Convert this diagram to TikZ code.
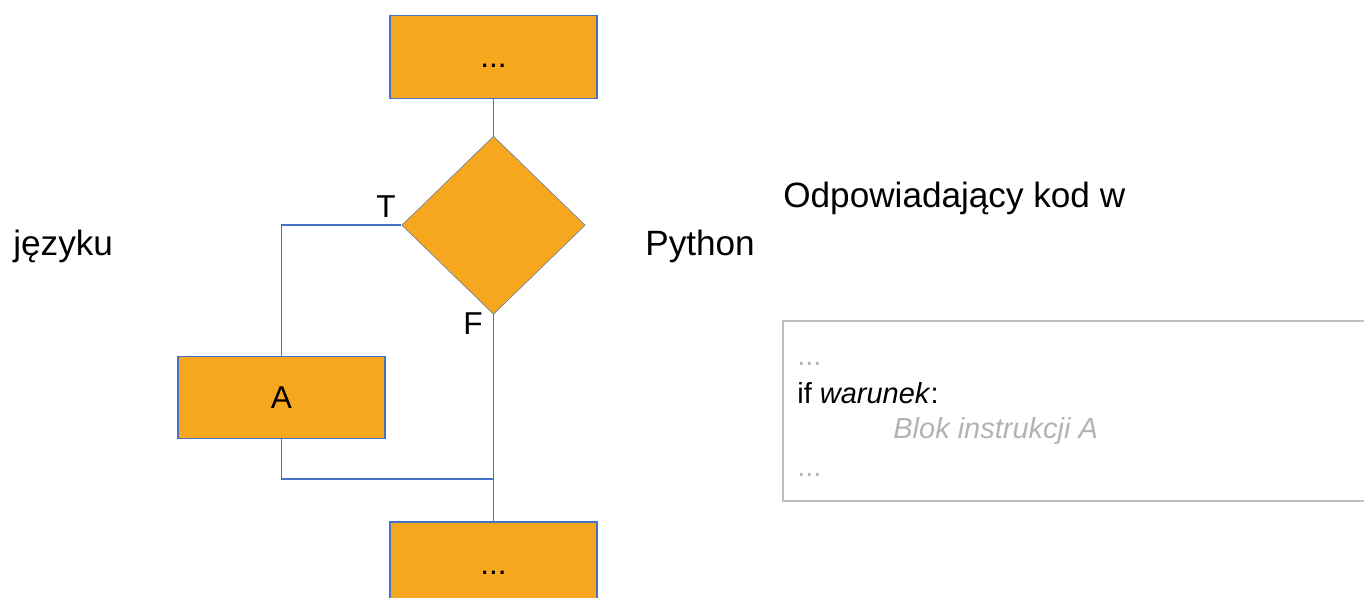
\documentclass[tikz,border=0pt]{standalone}
\usepackage{fontspec}
\setmainfont{Liberation Sans}
\usetikzlibrary{positioning,shapes.geometric}
\definecolor{pomarancz}{HTML}{F7A71D}
\definecolor{niebieski}{HTML}{4472C4}
\definecolor{szary}{HTML}{BFBFBF}
\definecolor{szarytekst}{HTML}{B3B3B3}

\begin{document}
\begin{tikzpicture}[
  font=\fontsize{20}{24}\selectfont,
  blok/.style={draw=niebieski,fill=pomarancz,line width=0.8pt,minimum width=4.14cm,minimum height=1.65cm,inner sep=0pt,execute at begin node=\vphantom{A},font=\fontsize{18}{22}\selectfont},
  decyzja/.style={diamond,draw=niebieski!60!gray,fill=pomarancz,line width=0.3pt,minimum width=3.67cm,minimum height=3.56cm,inner sep=0pt},
  linia/.style={draw=niebieski,line width=0.9pt},
  etykieta/.style={anchor=base,font=\fontsize{18}{22}\selectfont},
  opis/.style={anchor=base west,inner sep=0pt},
  kod/.style={anchor=base west,inner sep=0pt,font=\fontsize{16.5}{20}\selectfont},
  ramka/.style={draw=szary,line width=1.3pt}
]
\useasboundingbox (0,0) rectangle (27.28,11.94);
% schemat blokowy
\node[blok] (start) at (9.87,10.80) {...};
\node[decyzja,below=0.74cm of start] (war) {};
\node[blok] (A) at (5.63,3.99) {A};
\node[blok,below=4.14cm of war] (dalej) {...};
\coordinate (zlacz) at (9.87,2.36);
\draw[linia] (start) -- (war);
\draw[linia] (war.west) -| (A.north);
\draw[linia] (A.south) |- (zlacz);
\draw[linia] (war.south) -- (dalej.north);
\node[etykieta] (lT) at (7.72,7.6) {T};
\node[etykieta] (lF) at (9.46,5.26) {F};
% podpisy
\node[opis] (jezyku) at (0.26,6.84) {języku};
\node[opis] (python) at (12.9,6.84) {Python};
\node[opis] (odp) at (15.66,7.8) {Odpowiadający kod w};
% kod
\node[ramka,anchor=north west,minimum width=13cm,minimum height=3.6cm,inner sep=0pt] (ramka) at (15.63,5.54) {};
\node[kod,text=szarytekst] (k1) at (15.94,4.64) {...};
\node[kod] (k2) at (15.94,3.88) {if \textit{warunek}:};
\node[kod,text=szarytekst] (k3) at (17.86,3.18) {\textit{Blok instrukcji A}};
\node[kod,text=szarytekst] (k4) at (15.94,2.42) {...};
\end{tikzpicture}
\end{document}
